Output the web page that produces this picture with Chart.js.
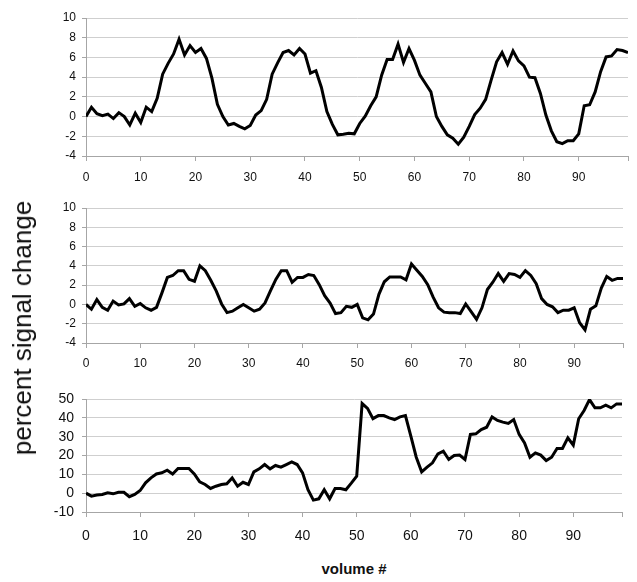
<!DOCTYPE html>
<html>
<head>
<meta charset="utf-8">
<script src="https://cdn.jsdelivr.net/npm/chart.js@4/dist/chart.umd.min.js"></script>
<style>
  html, body { margin: 0; padding: 0; background: #fff; }
  body { width: 637px; height: 582px; position: relative; overflow: hidden; font-family: "Liberation Sans", Arial, sans-serif; }
  .panel { position: absolute; left: 0; width: 637px; }
  .panel canvas { display: block; }
  #ytitle { position: absolute; left: 22px; top: 328px; transform: translate(-50%, -50%) rotate(-90deg); font-size: 26px; color: #111; white-space: nowrap; line-height: 1; }
  #xtitle { position: absolute; left: 354px; top: 568px; transform: translate(-50%, -50%); font-size: 15px; font-weight: bold; color: #111; white-space: nowrap; line-height: 1; }
</style>
</head>
<body>
<div class="panel" style="top:0px;height:190px"><canvas id="c1" width="637" height="190"></canvas></div>
<div class="panel" style="top:190px;height:190px"><canvas id="c2" width="637" height="190"></canvas></div>
<div class="panel" style="top:380px;height:175px"><canvas id="c3" width="637" height="175"></canvas></div>
<div id="ytitle">percent signal change</div>
<div id="xtitle">volume #</div>
<script>
// ---- data ----
const volumes = Array.from({length: 100}, (_, i) => i);
const xTickLabels = [0, 10, 20, 30, 40, 50, 60, 70, 80, 90];

const panel1Values = [
  0, 0.95, 0.3, 0.1, 0.25, -0.2, 0.4, 0, -0.85, 0.35,
  -0.6, 0.95, 0.5, 1.85, 4.3, 5.4, 6.35, 7.85, 6.25, 7.2,
  6.5, 6.9, 5.9, 3.9, 1.25, 0, -0.85, -0.7, -1.0, -1.25,
  -0.9, 0.15, 0.6, 1.75, 4.3, 5.45, 6.5, 6.7, 6.25, 6.9,
  6.35, 4.4, 4.65, 2.95, 0.5, -0.8, -1.85, -1.8, -1.7, -1.75,
  -0.7, 0.05, 1.1, 2.0, 4.2, 5.8, 5.8, 7.35, 5.5, 6.9,
  5.7, 4.2, 3.35, 2.5, 0, -1.0, -1.85, -2.2, -2.8, -2.1,
  -1.0, 0.2, 0.85, 1.75, 3.7, 5.55, 6.5, 5.3, 6.65, 5.65,
  5.15, 4.0, 3.95, 2.35, 0.15, -1.45, -2.55, -2.75, -2.45, -2.45,
  -1.75, 1.1, 1.2, 2.5, 4.55, 6.05, 6.15, 6.8, 6.7, 6.5
];

const panel2Values = [
  0, -0.5, 0.5, -0.3, -0.6, 0.35, -0.05, 0.05, 0.6, -0.2,
  0.1, -0.35, -0.6, -0.3, 1.2, 2.8, 3.0, 3.5, 3.5, 2.6,
  2.4, 4.0, 3.5, 2.5, 1.4, 0.05, -0.85, -0.7, -0.35, 0,
  -0.35, -0.7, -0.5, 0.15, 1.4, 2.6, 3.5, 3.5, 2.3, 2.8,
  2.8, 3.1, 3.0, 2.05, 0.9, 0.15, -0.95, -0.85, -0.2, -0.3,
  0, -1.4, -1.6, -1.0, 1.05, 2.35, 2.85, 2.85, 2.85, 2.55,
  4.2, 3.55, 2.9, 2.05, 0.75, -0.35, -0.8, -0.85, -0.85, -0.95,
  0.05, -0.75, -1.55, -0.35, 1.55, 2.3, 3.2, 2.4, 3.2, 3.1,
  2.8, 3.5, 3.0, 2.15, 0.6, 0, -0.25, -0.85, -0.6, -0.6,
  -0.35, -1.9, -2.65, -0.5, -0.15, 1.7, 2.9, 2.5, 2.7, 2.7
];

const panel3Values = [
  0, -1.6, -1.0, -0.7, 0.2, -0.35, 0.5, 0.5, -1.9, -0.7,
  1.4, 5.5, 8.1, 10.2, 10.8, 12.2, 10.2, 13.1, 13.1, 13.1,
  10.2, 6.0, 4.6, 2.5, 3.7, 4.6, 5.0, 8.1, 3.7, 5.8,
  4.6, 11.3, 12.9, 15.2, 12.9, 14.7, 13.8, 15.2, 16.6, 15.2,
  10.8, 1.9, -3.7, -3.0, 1.8, -3.0, 2.5, 2.5, 1.8, 5.3,
  9.0, 47.6, 45.0, 39.6, 41.2, 41.2, 40.0, 39.1, 40.5, 41.2,
  30.3, 19.1, 11.3, 13.8, 16.1, 20.9, 22.3, 17.9, 20.0, 20.2,
  17.9, 31.2, 31.5, 33.8, 35.0, 40.5, 38.6, 37.7, 37.0, 39.1,
  31.2, 26.7, 19.1, 21.4, 20.2, 17.3, 19.1, 23.7, 23.7, 29.4,
  25.5, 39.5, 43.9, 49.7, 45.3, 45.3, 46.7, 45.3, 47.4, 47.4
];

const panel1YTicks = [-4, -2, 0, 2, 4, 6, 8, 10];
const panel2YTicks = [-4, -2, 0, 2, 4, 6, 8, 10];
const panel3YTicks = [-10, 0, 10, 20, 30, 40, 50];

// ---- drawing ----
const FONT = '"Liberation Sans", Arial, sans-serif';
const AXIS = '#a6a6a6';
const GRID = '#cfcfcf';
const TEXT = '#111';

function makePanel(id, values, yTicks, cfg) {
  const pts = volumes.map((v, i) => ({x: v, y: values[i]}));
  new Chart(document.getElementById(id), {
    type: 'line',
    data: { datasets: [{ data: pts, borderColor: '#000', borderWidth: 3, pointRadius: 0, tension: 0, fill: false, borderJoinStyle: 'miter' }] },
    options: {
      responsive: false,
      animation: false,
      events: [],
      layout: { padding: { top: cfg.top, right: cfg.right, bottom: 0, left: 0 } },
      plugins: { legend: { display: false }, tooltip: { enabled: false } },
      scales: {
        x: {
          type: 'linear', min: 0, max: 99,
          afterBuildTicks: s => { s.ticks = xTickLabels.map(v => ({value: v})).concat([{value: 99}]); },
          ticks: { autoSkip: false, maxRotation: 0, padding: cfg.xPad, color: TEXT,
                   font: { family: FONT, size: cfg.xFont },
                   callback: v => (xTickLabels.includes(v) ? String(v) : '') },
          grid: { drawOnChartArea: false, drawTicks: true, tickLength: 5, color: AXIS },
          border: { display: true, color: AXIS, width: 1 },
          afterFit: s => { s.height = cfg.xH; }
        },
        y: {
          min: yTicks[0], max: yTicks[yTicks.length - 1],
          afterBuildTicks: s => { s.ticks = yTicks.map(v => ({value: v})); },
          ticks: { autoSkip: false, padding: cfg.yPad, color: TEXT, font: { family: FONT, size: cfg.yFont } },
          grid: { color: GRID, tickLength: 4, tickColor: AXIS },
          border: { display: true, color: AXIS, width: 1 },
          afterFit: s => { s.width = 86; }
        }
      }
    }
  });
}

makePanel('c1', panel1Values, panel1YTicks, { top: 18, right: 6, xH: 34, xPad: 9, xFont: 12, yFont: 12, yPad: 6 });
makePanel('c2', panel2Values, panel2YTicks, { top: 18, right: 14, xH: 37, xPad: 8, xFont: 12, yFont: 12, yPad: 6 });
makePanel('c3', panel3Values, panel3YTicks, { top: 19, right: 15, xH: 43, xPad: 11, xFont: 14, yFont: 14, yPad: 8 });
</script>
</body>
</html>
